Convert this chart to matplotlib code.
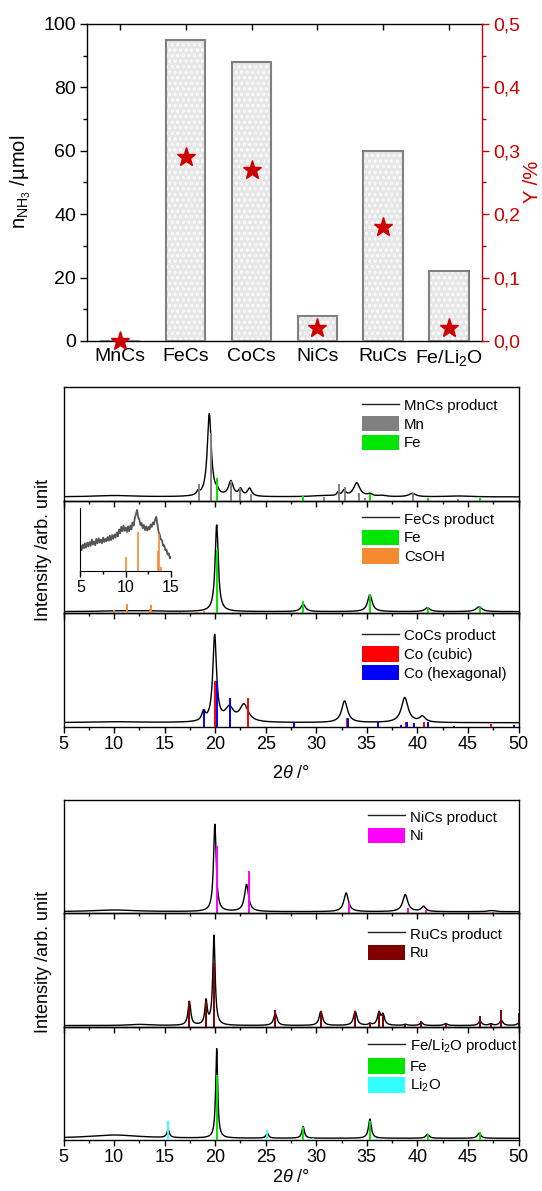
import numpy as np
import matplotlib
matplotlib.use('Agg')
import matplotlib.pyplot as plt
from matplotlib.patches import Patch
from matplotlib.lines import Line2D
from matplotlib.ticker import MultipleLocator, FuncFormatter, NullLocator

plt.rcParams['font.family'] = ['Liberation Sans', 'DejaVu Sans']
plt.rcParams['mathtext.fontset'] = 'custom'
plt.rcParams['mathtext.rm'] = 'Liberation Sans'
plt.rcParams['mathtext.it'] = 'Liberation Sans:italic'
plt.rcParams['mathtext.bf'] = 'Liberation Sans:bold'
plt.rcParams['hatch.linewidth'] = 0.5

# ---------------- data: top bar chart ----------------
samples = ['MnCs', 'FeCs', 'CoCs', 'NiCs', 'RuCs', 'Fe/Li$_2$O']
n_nh3 = [0, 95, 88, 8, 60, 22]          # µmol
yield_pct = [0.0, 0.29, 0.27, 0.02, 0.18, 0.02]  # %

# ---------------- data: XRD patterns (peak lists) ----------------
# heights in % of panel height, widths = HWHM in degrees 2theta
mn_base = 3.3
mn_pos = [10.0, 18.3, 19.42, 20.2, 21.55, 22.5, 23.4, 30.8, 32.15, 32.75, 34.0, 35.3, 36.5, 39.5, 44.0]
mn_hgt = [1.2, 3.0, 73.0, 3.0, 13.0, 6.0, 7.0, 1.0, 3.0, 5.0, 12.0, 2.0, 1.0, 3.0, 0.8]
mn_wid = [2.5, 0.15, 0.24, 0.2, 0.28, 0.22, 0.25, 1.5, 0.15, 0.2, 0.38, 0.3, 0.5, 0.4, 1.5]

fe_base = 1.5
fe_pos = [10.5, 13.0, 20.15, 28.7, 35.3, 41.0, 46.1]
fe_hgt = [0.6, 0.6, 77.0, 6.5, 15.0, 3.5, 4.2]
fe_wid = [2.0, 1.5, 0.19, 0.27, 0.27, 0.3, 0.35]

co_base = 3.5
co_pos = [10.0, 18.85, 19.95, 21.4, 22.85, 32.8, 38.75, 40.5]
co_hgt = [0.8, 8.0, 76.0, 12.0, 15.0, 19.0, 22.0, 5.0]
co_wid = [3.0, 0.2, 0.22, 0.5, 0.5, 0.35, 0.4, 0.35]

ni_base = 1.4
ni_pos = [10.0, 19.97, 23.1, 32.95, 38.8, 40.6, 47.3]
ni_hgt = [1.5, 77.0, 24.0, 16.5, 15.0, 4.5, 1.0]
ni_wid = [2.5, 0.16, 0.24, 0.27, 0.3, 0.25, 0.4]

ru_base = 1.0
ru_pos = [12.5, 17.45, 19.1, 19.88, 25.95, 30.45, 33.85, 35.3, 36.2, 36.6, 38.8, 40.4, 42.8, 46.2, 47.25, 48.3, 50.0]
ru_hgt = [1.0, 21.0, 21.0, 79.0, 10.5, 12.5, 12.5, 1.5, 11.0, 9.0, 1.0, 2.5, 1.8, 3.8, 1.5, 4.5, 2.0]
ru_wid = [1.2, 0.16, 0.14, 0.14, 0.2, 0.2, 0.2, 0.15, 0.18, 0.18, 0.2, 0.2, 0.2, 0.2, 0.2, 0.2, 0.2]

feli_base = 1.5
feli_pos = [10.0, 15.35, 20.15, 25.15, 28.7, 35.3, 41.0, 46.1]
feli_hgt = [2.9, 7.0, 79.0, 4.5, 10.3, 17.0, 3.5, 4.5]
feli_wid = [3.0, 0.15, 0.12, 0.15, 0.15, 0.17, 0.2, 0.2]

# reference sticks
ref_mn_pos = [18.4, 19.6, 21.6, 22.5, 23.5, 30.8, 32.2, 32.8, 34.2, 34.8, 39.6, 44.0]
ref_mn_hgt = [14.7, 60.0, 17.7, 11.0, 6.0, 3.0, 14.7, 12.0, 6.5, 2.5, 6.5, 1.5]
ref_fe_pos = [20.2, 28.7, 35.35, 41.0, 46.15]
ref_fe_rel = [100, 20, 30, 10, 12]
ref_csoh_pos = [10.0, 11.3, 13.55, 13.7, 13.9, 16.5, 18.2, 18.9, 22.8, 24.6, 27.6, 31.5]
ref_csoh_rel = [35, 100, 50, 95, 10, 10, 25, 30, 8, 8, 6, 6]
ref_cocub_pos = [20.0, 23.2, 33.0, 38.9, 40.7, 47.3]
ref_cocub_hgt = [40.0, 25.6, 7.6, 4.0, 4.0, 2.0]
ref_cohex_pos = [18.9, 20.2, 21.45, 27.8, 33.1, 36.1, 38.4, 39.0, 39.7, 41.0, 43.6, 49.6]
ref_cohex_hgt = [14.0, 40.0, 25.0, 4.4, 7.6, 4.5, 1.5, 4.0, 3.0, 4.0, 1.0, 1.5]
ref_ni_pos = [20.2, 23.3, 33.2, 39.1, 40.9, 47.5]
ref_ni_hgt = [59.0, 37.0, 9.0, 4.4, 3.0, 1.5]
ref_ru_pos = [17.45, 19.1, 19.88, 25.95, 30.45, 33.85, 35.3, 36.2, 36.6, 38.8, 40.4, 42.8, 46.2, 47.25, 48.3, 50.0]
ref_ru_hgt = [23.0, 23.0, 56.0, 14.7, 14.0, 14.0, 2.0, 13.0, 10.0, 1.5, 5.0, 3.0, 9.4, 2.0, 14.7, 11.8]
ref_li2o_pos = [15.35, 17.75, 25.15, 29.65, 36.0, 44.4]
ref_li2o_hgt = [16.8, 1.0, 8.8, 2.0, 1.5, 1.0]

# inset (FeCs product, 5-15 deg), fraction of inset height
inset_x = [5.0 + 0.125 * i for i in range(81)]
inset_y = [0.40, 0.33, 0.42, 0.36, 0.44, 0.37, 0.45, 0.39, 0.46, 0.40, 0.50, 0.42, 0.47, 0.41, 0.51, 0.44,
           0.52, 0.45, 0.50, 0.44, 0.53, 0.46, 0.51, 0.47, 0.54, 0.48, 0.56, 0.49, 0.57, 0.51, 0.58, 0.53,
           0.61, 0.55, 0.66, 0.60, 0.70, 0.63, 0.72, 0.64, 0.69, 0.62, 0.71, 0.63, 0.72, 0.66, 0.77, 0.72,
           0.84, 0.90, 0.97, 0.85, 0.82, 0.73, 0.76, 0.68, 0.73, 0.65, 0.71, 0.64, 0.70, 0.66, 0.74, 0.70,
           0.77, 0.74, 0.82, 0.86, 0.74, 0.62, 0.58, 0.50, 0.49, 0.40, 0.41, 0.33, 0.34, 0.26, 0.28, 0.20, 0.22]

# colours
C_MN = '#808080'
C_FE = '#00e600'
C_CSOH = '#f58a30'
C_COC = '#ff0000'
C_COH = '#0000ff'
C_NI = '#ff00ff'
C_RU = '#800000'
C_LI = '#33ffff'
RED = '#cc0000'

W, H = 542, 1191
fig = plt.figure(figsize=(W / 100, H / 100), dpi=100)


def rect(l, t, r, b):
    return [l / W, 1 - b / H, (r - l) / W, (b - t) / H]


# ================= top chart =================
ax = fig.add_axes(rect(87, 24, 482, 341))
xc = np.arange(len(samples))
ax.bar(xc, n_nh3, width=0.6, color='#e6e6e6', edgecolor='#fbfbfb', hatch='ooo', linewidth=0, zorder=2)
ax.bar(xc, n_nh3, width=0.6, fill=False, edgecolor='#808080', linewidth=1.5, zorder=3)
ax.set_xlim(-0.5, len(samples) - 0.5)
ax.set_ylim(0, 100)
ax.set_yticks([0, 20, 40, 60, 80, 100])
ax.yaxis.set_minor_locator(MultipleLocator(10))
ax.set_xticks(xc)
ax.set_xticklabels(samples)
ax.tick_params(axis='x', direction='in', top=True, length=4, width=1, labelsize=14, pad=5)
ax.tick_params(axis='y', which='major', direction='out', length=5, width=1, labelsize=14, pad=3)
ax.tick_params(axis='y', which='minor', direction='out', length=3, width=1)
ax.spines['right'].set_visible(False)
for s in ['left', 'top', 'bottom']:
    ax.spines[s].set_linewidth(1.0)

ax2 = ax.twinx()
ax2.plot(xc, yield_pct, linestyle='none', marker='*', color=RED, markersize=14, clip_on=False, zorder=5)
ax2.set_ylim(0, 0.5)
ax2.set_yticks([0, 0.1, 0.2, 0.3, 0.4, 0.5])
ax2.yaxis.set_minor_locator(MultipleLocator(0.05))
ax2.yaxis.set_major_formatter(FuncFormatter(lambda v, p: f'{v:.1f}'.replace('.', ',')))
ax2.tick_params(axis='y', which='major', direction='out', length=5, width=1, colors=RED, labelsize=14, pad=3)
ax2.tick_params(axis='y', which='minor', direction='out', length=3, width=1, colors=RED)
for s in ['left', 'top', 'bottom']:
    ax2.spines[s].set_visible(False)
ax2.spines['right'].set_color(RED)
ax2.spines['right'].set_linewidth(1.0)

fig.text(20.7 / W, 1 - 182 / H, r'n$_{\mathrm{NH}_3}$ /µmol', rotation=90, ha='center', va='center', fontsize=14.5)
fig.text(533 / W, 1 - 182 / H, 'Y /%', rotation=90, ha='center', va='center', fontsize=14.5, color=RED)


# ================= XRD helpers =================
xx = np.linspace(5, 50, 4000)


def pattern(base, pos, hgt, wid):
    y = np.full_like(xx, base)
    for p, h, w in zip(pos, hgt, wid):
        y += h / (1 + ((xx - p) / w) ** 2)
    return y


def make_panels(bounds):
    axs = []
    for i in range(3):
        a = fig.add_axes(rect(63.5, bounds[i], 518.5, bounds[i + 1]))
        a.set_facecolor('none')
        a.set_xlim(5, 50)
        a.set_ylim(0, 100)
        a.yaxis.set_major_locator(NullLocator())
        a.xaxis.set_major_locator(MultipleLocator(5))
        a.xaxis.set_minor_locator(MultipleLocator(2.5))
        a.tick_params(axis='x', which='major', direction='out', length=4, width=1, labelsize=13, pad=2.5,
                      labelbottom=(i == 2))
        a.tick_params(axis='x', which='minor', direction='out', length=2.5, width=1)
        for s in a.spines.values():
            s.set_linewidth(1.0)
        axs.append(a)
    return axs


def add_legend(a, items, fx, fy):
    handles = []
    labels = []
    for lab, col in items:
        if col is None:
            handles.append(Line2D([], [], color='#222222', lw=1.0))
        else:
            handles.append(Patch(facecolor=col, edgecolor='none'))
        labels.append(lab)
    a.legend(handles, labels, loc='upper left', bbox_to_anchor=(fx, fy), frameon=False, fontsize=10.8,
             handlelength=2.45, handleheight=1.2, handletextpad=0.35, labelspacing=0.2, borderpad=0,
             borderaxespad=0)


def sticks(a, pos, hgt, col, lw=1.4):
    a.vlines(pos, 0, hgt, colors=col, linewidth=lw, zorder=3)


# ================= middle figure =================
b1 = [387.3, 500.7, 613.3, 726.7]
pA = make_panels(b1)

pA[0].plot(xx, pattern(mn_base, mn_pos, mn_hgt, mn_wid), color='k', lw=1.0, zorder=2)
sticks(pA[0], ref_mn_pos, ref_mn_hgt, C_MN)
sticks(pA[0], ref_fe_pos, [r * 0.197 for r in ref_fe_rel], C_FE)
add_legend(pA[0], [('MnCs product', None), ('Mn', C_MN), ('Fe', C_FE)], 0.656, 0.913)

pA[1].plot(xx, pattern(fe_base, fe_pos, fe_hgt, fe_wid), color='k', lw=1.0, zorder=2)
sticks(pA[1], ref_csoh_pos, [r * 0.08 for r in ref_csoh_rel], C_CSOH)
sticks(pA[1], ref_fe_pos, [r * 0.56 for r in ref_fe_rel], C_FE)
add_legend(pA[1], [('FeCs product', None), ('Fe', C_FE), ('CsOH', C_CSOH)], 0.656, 0.910)

pA[2].plot(xx, pattern(co_base, co_pos, co_hgt, co_wid), color='k', lw=1.0, zorder=2)
sticks(pA[2], ref_cocub_pos, ref_cocub_hgt, C_COC)
sticks(pA[2], ref_cohex_pos, ref_cohex_hgt, C_COH)
add_legend(pA[2], [('CoCs product', None), ('Co (cubic)', C_COC), ('Co (hexagonal)', C_COH)], 0.656, 0.875)

# inset
ins = fig.add_axes(rect(80.5, 508, 171, 571))
ins.set_facecolor('none')
ins.plot(inset_x, inset_y, color='#555555', lw=1.3, zorder=2)
ins.vlines(ref_csoh_pos, 0, [r * 0.0062 for r in ref_csoh_rel], colors=C_CSOH, linewidth=1.2, zorder=3)
ins.set_xlim(5, 15)
ins.set_ylim(0, 1)
ins.set_xticks([5, 10, 15])
ins.xaxis.set_minor_locator(MultipleLocator(2.5))
ins.yaxis.set_major_locator(NullLocator())
ins.spines['top'].set_visible(False)
ins.spines['right'].set_visible(False)
ins.tick_params(axis='x', which='major', direction='out', length=4, width=1, labelsize=11.5, pad=2.5)
ins.tick_params(axis='x', which='minor', direction='out', length=2.5, width=1)

fig.text(43 / W, 1 - 550 / H, 'Intensity /arb. unit', rotation=90, ha='center', va='center', fontsize=13)
fig.text(291 / W, 1 - 773 / H, r'2$\theta$ /°', ha='center', va='center', fontsize=13)

# ================= bottom figure =================
b2 = [800.0, 913.3, 1026.7, 1140.0]
pB = make_panels(b2)

pB[0].plot(xx, pattern(ni_base, ni_pos, ni_hgt, ni_wid), color='k', lw=1.0, zorder=2)
sticks(pB[0], ref_ni_pos, ref_ni_hgt, C_NI)
add_legend(pB[0], [('NiCs product', None), ('Ni', C_NI)], 0.669, 0.922)

pB[1].plot(xx, pattern(ru_base, ru_pos, ru_hgt, ru_wid), color='k', lw=1.0, zorder=2)
sticks(pB[1], ref_ru_pos, ref_ru_hgt, C_RU)
add_legend(pB[1], [('RuCs product', None), ('Ru', C_RU)], 0.669, 0.89)

pB[2].plot(xx, pattern(feli_base, feli_pos, feli_hgt, feli_wid), color='k', lw=1.0, zorder=2)
sticks(pB[2], ref_li2o_pos, ref_li2o_hgt, C_LI)
sticks(pB[2], ref_fe_pos, [r * 0.57 for r in ref_fe_rel], C_FE)
add_legend(pB[2], [('Fe/Li$_2$O product', None), ('Fe', C_FE), ('Li$_2$O', C_LI)], 0.669, 0.907)

fig.text(43 / W, 1 - 962 / H, 'Intensity /arb. unit', rotation=90, ha='center', va='center', fontsize=13)
fig.text(291 / W, 1 - 1178 / H, r'2$\theta$ /°', ha='center', va='center', fontsize=13)

fig.savefig('out.png', dpi=100)
